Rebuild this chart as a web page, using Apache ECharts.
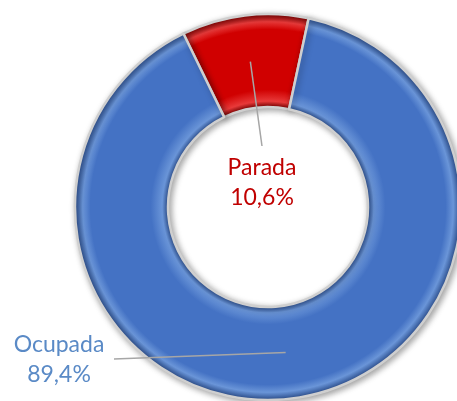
<!DOCTYPE html>
<html>
<head>
<meta charset="utf-8">
<script src="https://cdn.jsdelivr.net/npm/echarts@6/dist/echarts.min.js"></script>
<style>
  html, body { margin: 0; padding: 0; background: #fff; }
  #myChart { width: 457px; height: 401px; }
</style>
</head>
<body>
<div id="myChart"></div>
<script>
// data
var names = ['Parada', 'Ocupada'];
var values = [10.6, 89.4];
var labelText = ['10,6%', '89,4%'];

var cx = 268, cy = 207, rIn = 100, rOut = 193;
var startAngle = 116;
// label centers (text positions)
var labelPos = [[262, 183], [59, 360]];
var labelColors = ['#C00000', '#5A8AC6'];

function bevel(dark, base, light) {
  var k = rIn / rOut;
  return {
    type: 'radial', x: cx, y: cy, r: rOut, global: true,
    colorStops: [
      { offset: k, color: dark },
      { offset: k + 0.03, color: light },
      { offset: k + 0.09, color: base },
      { offset: 0.92, color: base },
      { offset: 0.96, color: light },
      { offset: 1, color: dark }
    ]
  };
}
var fills = [
  bevel('#7a0000', '#D00000', '#e83a3a'),
  bevel('#2c4f8f', '#4472C4', '#6a95d8')
];

var total = values.reduce(function(a, b) { return a + b; }, 0);
function midPoint(i) {
  var cum = 0;
  for (var j = 0; j < i; j++) cum += values[j];
  var a = (startAngle - (cum + values[i] / 2) / total * 360) * Math.PI / 180;
  var r = (rIn + rOut) / 2;
  return [cx + r * Math.cos(a), cy - r * Math.sin(a)];
}

var myChart = echarts.init(document.getElementById('myChart'));
var option = {
  backgroundColor: '#fff',
  animation: false,
  series: [{
    // the ring
    type: 'pie',
    z: 2,
    center: [cx, cy],
    radius: [rIn, rOut],
    startAngle: startAngle,
    data: names.map(function(n, i) {
      return { name: n, value: values[i], itemStyle: { color: fills[i] } };
    }),
    itemStyle: {
      borderColor: '#cfcfcf',
      borderWidth: 2.5,
      shadowBlur: 6,
      shadowOffsetX: 2,
      shadowOffsetY: 2,
      shadowColor: 'rgba(0,0,0,0.35)'
    },
    label: { show: false },
    labelLine: { show: false },
    silent: true
  }, {
    // labels + leader lines drawn on top
    type: 'pie',
    z: 5,
    center: [cx, cy],
    radius: [rIn, rOut],
    startAngle: startAngle,
    data: names.map(function(n, i) {
      return { name: n, value: values[i], label: { color: labelColors[i] } };
    }),
    itemStyle: { color: 'rgba(0,0,0,0)', borderWidth: 0 },
    emphasis: { disabled: true },
    label: {
      show: true,
      position: 'outside',
      fontFamily: 'Lato',
      fontSize: 23,
      lineHeight: 30,
      align: 'center',
      formatter: function(p) { return p.name + '\n' + labelText[p.dataIndex]; }
    },
    labelLine: {
      show: true,
      lineStyle: { color: '#a6a6a6', width: 1.5 }
    },
    labelLayout: function(params) {
      var i = params.dataIndex;
      var p = labelPos[i];
      var s = midPoint(i);
      var end = i === 0 ? [p[0], p[1] - 37] : [p[0] + 55, p[1] - 1];
      return {
        x: p[0],
        y: p[1],
        align: 'center',
        verticalAlign: 'middle',
        labelLinePoints: [s, end, end]
      };
    }
  }]
};
myChart.setOption(option);
</script>
</body>
</html>
